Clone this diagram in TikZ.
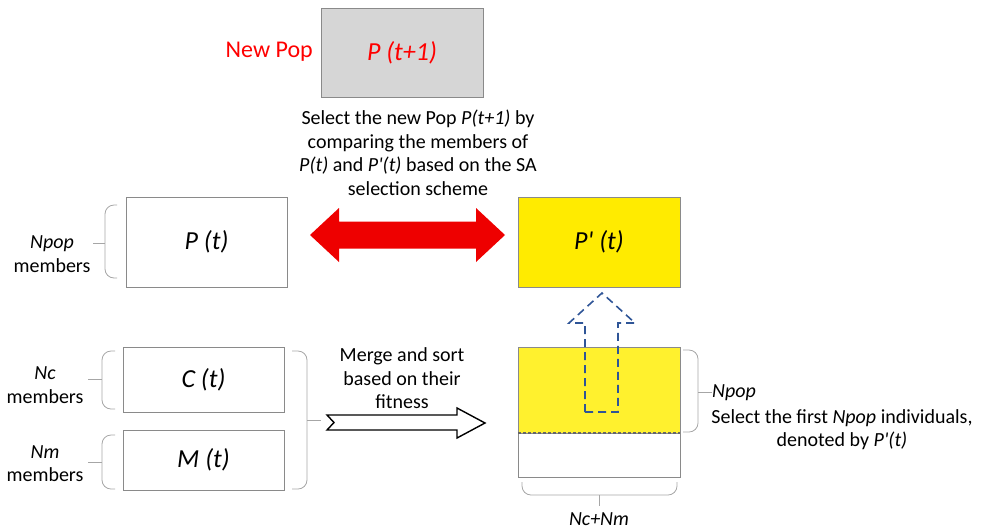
\documentclass[tikz,border=0pt]{standalone}
\usepackage{fontspec}
\setmainfont{Carlito}
\definecolor{boxgray}{HTML}{D6D6D6}
\definecolor{edgegray}{HTML}{8A8A8A}
\definecolor{ppyellow}{HTML}{FFEB00}
\definecolor{sortyellow}{HTML}{FFF12E}
\definecolor{arrowred}{HTML}{EE0000}
\definecolor{dashblue}{HTML}{2F5597}
\definecolor{bracegray}{HTML}{A6A6A6}
\newcommand{\pq}{\textquotesingle}
\tikzset{
  popbox/.style={draw=edgegray, line width=0.8pt, inner sep=0pt, outer sep=0pt, font=\fontsize{26}{30}\selectfont\itshape},
  lbl/.style={inner sep=0pt, align=center, font=\fontsize{20}{23.5}\selectfont},
  brace/.style={draw=bracegray, line width=0.8pt, rounded corners=9pt},
  tick/.style={draw=bracegray, line width=0.8pt}
}
\begin{document}
\begin{tikzpicture}[x=1pt,y=-1pt]
\useasboundingbox (0,0) rectangle (981,531);
% top box
\node[popbox, fill=boxgray, minimum width=162, minimum height=89, text=red] (pnew) at (402,52.5) {P (t+1)};
\node[lbl, text=red, font=\fontsize{24}{28}\selectfont, anchor=east] (newpop) at (313,52) {New Pop};
\node[lbl] (seltext) at (418,153) {Select the new Pop \textit{P(t+1)} by\\comparing the members of\\\textit{P(t)} and \textit{P\pq(t)} based on the SA\\selection scheme};
% P(t) and P'(t)
\node[popbox, fill=white, minimum width=161, minimum height=90] (pt) at (206.5,242) {P (t)};
\node[popbox, fill=ppyellow, minimum width=162, minimum height=90] (ppt) at (599,242) {P\pq\ (t)};
\fill[arrowred] (310,235) -- (339,208) -- (339,221.5) -- (476,221.5) -- (476,208) -- (505,235) -- (476,262) -- (476,248.5) -- (339,248.5) -- (339,262) -- cycle;
% brace for P(t)
\draw[brace] (117,205) -- (105,205) -- (105,278) -- (117,278);
\coordinate (npopT) at (105,243);
\node[lbl] (npopL) at (52,254) {\textit{Npop}\\members};
\draw[tick] (93,243) -- (npopT);
% C(t), M(t)
\node[popbox, fill=white, minimum width=161, minimum height=65] (ct) at (203.5,379.5) {C (t)};
\node[popbox, fill=white, minimum width=161, minimum height=60] (mt) at (203.5,460) {M (t)};
\draw[brace] (115,351) -- (102,351) -- (102,409) -- (115,409);
\coordinate (ncT) at (102,379);
\node[lbl] (ncL) at (45,385) {\textit{Nc}\\members};
\draw[tick] (88,379) -- (ncT);
\draw[brace] (115,435) -- (102,435) -- (102,489) -- (115,489);
\coordinate (nmT) at (102,462);
\node[lbl] (nmL) at (45,463.5) {\textit{Nm}\\members};
\draw[tick] (88,462) -- (nmT);
% right brace of C and M
\draw[brace] (292,351) -- (307,351) -- (307,489) -- (292,489);
\coordinate (cmT) at (307,420);
\coordinate (cmE) at (321,420);
\draw[tick] (cmT) -- (cmE);
% merge arrow
\node[lbl] (mergeL) at (402,378.5) {Merge and sort\\based on their\\fitness};
\draw[line width=1.4pt, fill=white, line join=miter] (327,415) -- (457,415) -- (457,408) -- (485,423) -- (457,438) -- (457,430) -- (327,430) -- (334,422.5) -- cycle;
% sorted box
\node[draw=edgegray, line width=0.8pt, fill=sortyellow, minimum width=162, minimum height=86, inner sep=0pt, outer sep=0pt] (sortA) at (599,390) {};
\node[draw=edgegray, line width=0.8pt, fill=white, minimum width=162, minimum height=44, inner sep=0pt, outer sep=0pt] (sortB) at (599,455) {};
\draw[black!60, line width=2pt, dash pattern=on 3pt off 2pt] (sortB.north west) -- (sortB.north east);
% dashed blue block arrow
\draw[dashblue, line width=1.6pt, dash pattern=on 8pt off 5pt, line join=miter] (585,412) -- (585,323) -- (569,323) -- (602,293) -- (635,323) -- (618,323) -- (618,412) -- cycle;
% right brace Npop
\draw[brace] (683,350) -- (698,350) -- (698,432) -- (683,432);
\coordinate (npT2) at (698,392);
\draw[tick] (npT2) -- (712,392);
\node[lbl, anchor=west] (npop2) at (712,393) {\textit{Npop}};
\node[lbl] (selfirst) at (842,429.5) {Select the first \textit{Npop} individuals,\\denoted by \textit{P\pq(t)}};
% bottom brace
\draw[brace] (522,482) -- (522,495) -- (677,495) -- (677,482);
\coordinate (bT) at (599,495);
\draw[tick] (bT) -- (599,506);
\node[lbl] (ncnm) at (599,519) {\textit{Nc+Nm}};
\end{tikzpicture}
\end{document}
